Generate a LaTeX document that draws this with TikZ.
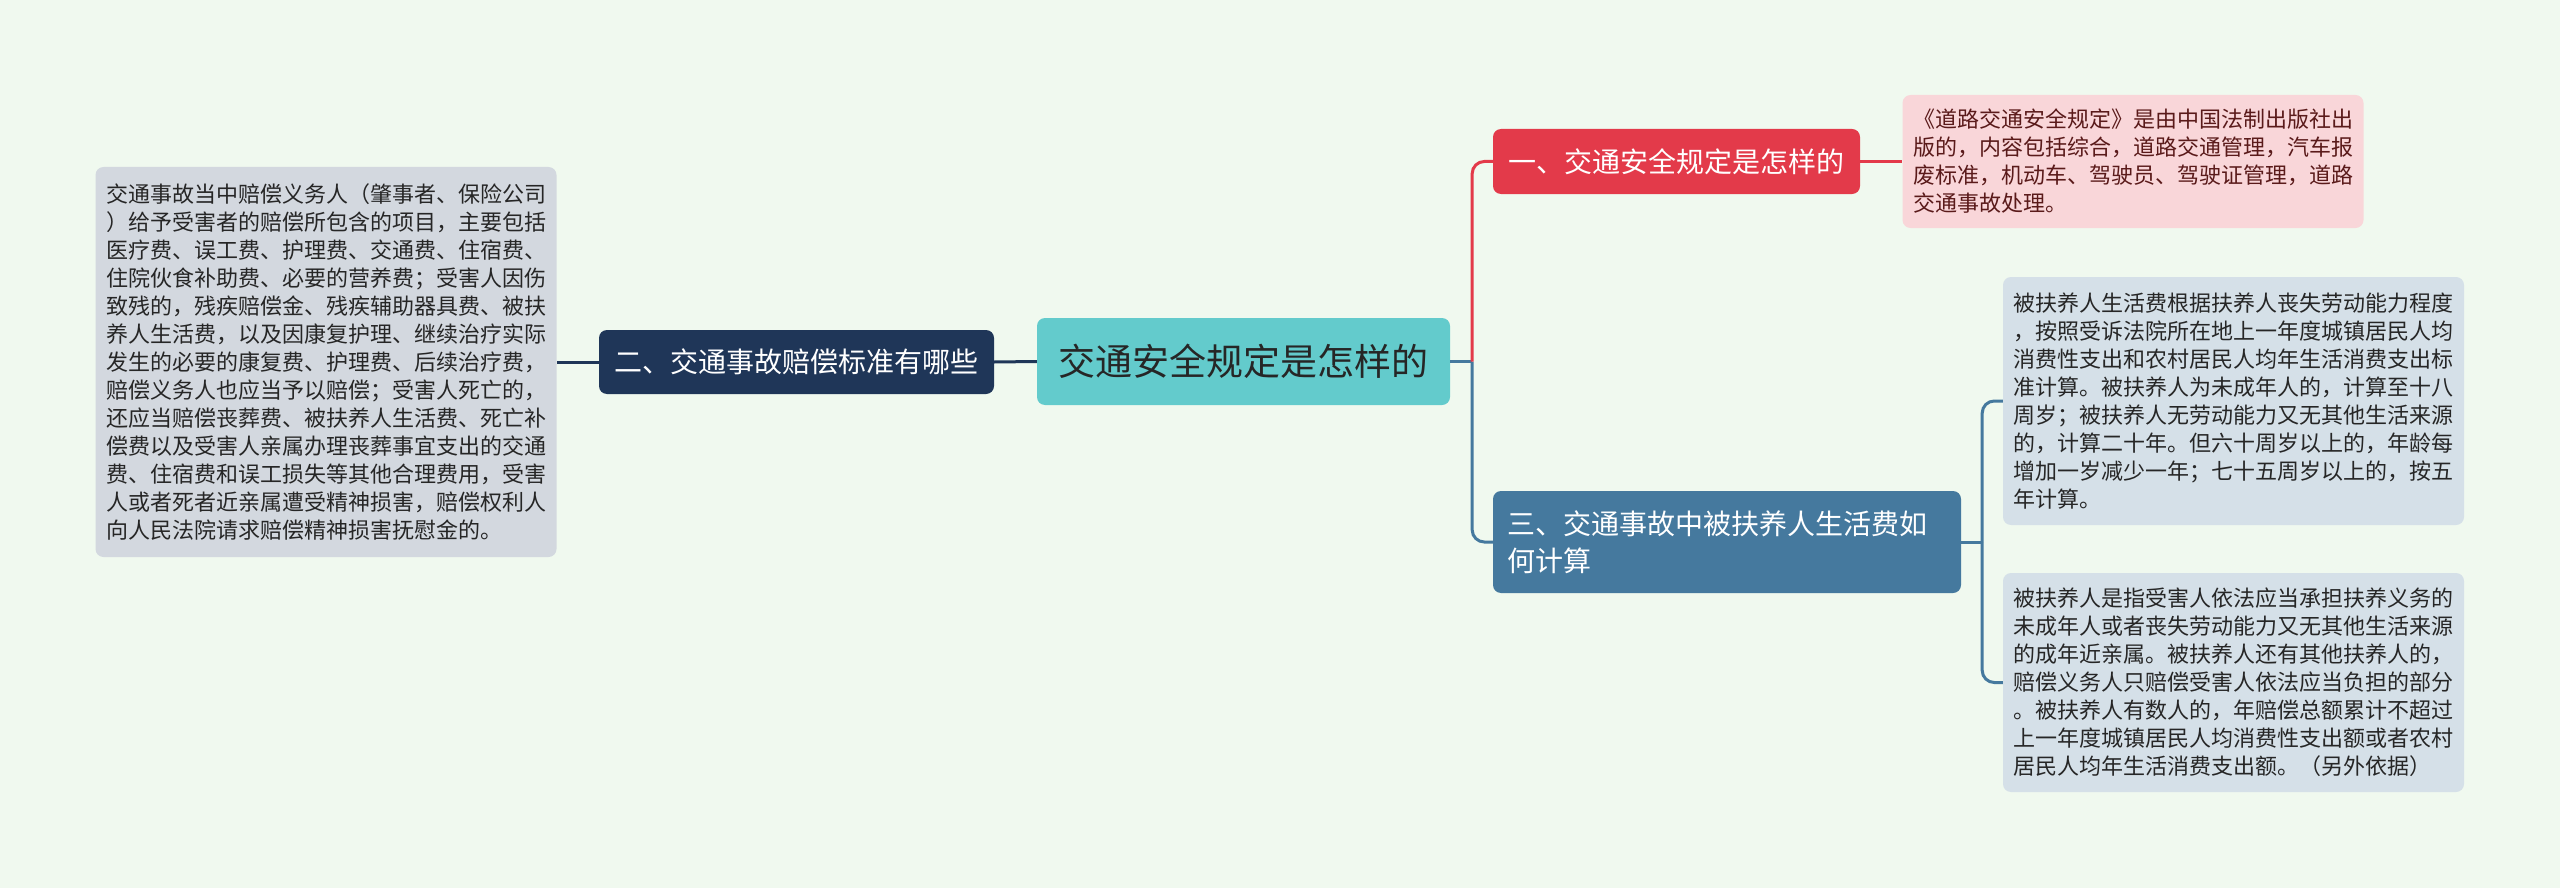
\documentclass[tikz,border=0pt]{standalone}
\usepackage{fontspec}
\setmainfont{Noto Sans CJK SC}
\definecolor{bgc}{HTML}{F0F9EF}
\definecolor{centc}{HTML}{63CBCC}
\definecolor{navyc}{HTML}{1F3658}
\definecolor{redc}{HTML}{E33A4A}
\definecolor{bluec}{HTML}{45799E}
\definecolor{greyc}{HTML}{D3D8DF}
\definecolor{pinkc}{HTML}{F9D6D9}
\definecolor{lbluec}{HTML}{D5E0E8}
\definecolor{darkred}{HTML}{5A1A1A}
\definecolor{darktxt}{HTML}{262626}
\begin{document}
\begin{tikzpicture}[x=1pt,y=-1pt,
  boxbase/.style={rounded corners=8pt, inner sep=0pt, align=left},
  title/.style={boxbase, font=\fontsize{28}{36.5}\selectfont, text=white},
  leaf/.style={boxbase, font=\fontsize{22}{28}\selectfont, text=darktxt, text width=440pt, minimum width=461pt},
  conn/.style={line width=3pt}
]
\fill[bgc] (0,0) rectangle (2560,888);
\useasboundingbox (0,0) rectangle (2560,888);

% central
\node[boxbase, fill=centc, text=darktxt, font=\fontsize{37}{44}\selectfont, minimum width=413pt, minimum height=87pt, align=center] (c) at (1243.5,361.5) {交通安全规定是怎样的};

% branch 2 (left)
\node[title, fill=navyc, minimum width=395pt, minimum height=64pt, align=center] (n2) at (796.5,362) {二、交通事故赔偿标准有哪些};
\node[leaf, fill=greyc, minimum height=390pt] (lt) at (326,362) {交通事故当中赔偿义务人（肇事者、保险公司\\）给予受害者的赔偿所包含的项目，主要包括\\医疗费、误工费、护理费、交通费、住宿费、\\住院伙食补助费、必要的营养费；受害人因伤\\致残的，残疾赔偿金、残疾辅助器具费、被扶\\养人生活费，以及因康复护理、继续治疗实际\\发生的必要的康复费、护理费、后续治疗费，\\赔偿义务人也应当予以赔偿；受害人死亡的，\\还应当赔偿丧葬费、被扶养人生活费、死亡补\\偿费以及受害人亲属办理丧葬事宜支出的交通\\费、住宿费和误工损失等其他合理费用，受害\\人或者死者近亲属遭受精神损害，赔偿权利人\\向人民法院请求赔偿精神损害抚慰金的。};

% branch 1
\node[title, fill=redc, minimum width=367pt, minimum height=65pt, align=center] (n1) at (1676.5,161.5) {一、交通安全规定是怎样的};
\node[leaf, fill=pinkc, text=darkred, minimum height=133pt] (rb) at (2133,161.5) {《道路交通安全规定》是由中国法制出版社出\\版的，内容包括综合，道路交通管理，汽车报\\废标准，机动车、驾驶员、驾驶证管理，道路\\交通事故处理。};

% branch 3
\node[title, fill=bluec, text width=440pt, minimum width=468pt, minimum height=102pt] (n3) at (1727,542) {三、交通事故中被扶养人生活费如\\何计算};
\node[leaf, fill=lbluec, minimum height=248pt] (a3) at (2233.5,401) {被扶养人生活费根据扶养人丧失劳动能力程度\\，按照受诉法院所在地上一年度城镇居民人均\\消费性支出和农村居民人均年生活消费支出标\\准计算。被扶养人为未成年人的，计算至十八\\周岁；被扶养人无劳动能力又无其他生活来源\\的，计算二十年。但六十周岁以上的，年龄每\\增加一岁减少一年；七十五周岁以上的，按五\\年计算。};
\node[leaf, fill=lbluec, minimum height=219pt] (b3) at (2233.5,682.5) {被扶养人是指受害人依法应当承担扶养义务的\\未成年人或者丧失劳动能力又无其他生活来源\\的成年近亲属。被扶养人还有其他扶养人的，\\赔偿义务人只赔偿受害人依法应当负担的部分\\。被扶养人有数人的，年赔偿总额累计不超过\\上一年度城镇居民人均消费性支出额或者农村\\居民人均年生活消费支出额。（另外依据）};

% connectors
\draw[conn, navyc] (c.west) -- (n2.east);
\draw[conn, navyc] (n2.west) -- (lt.east);

\draw[conn, bluec] (c.east) -- ++(22,0) coordinate (tr);
\draw[conn, bluec, rounded corners=12pt] (tr) |- (n3.west);
\draw[conn, redc, rounded corners=12pt] (tr) |- (n1.west);
\draw[conn, redc] (n1.east) -- (rb.west);

\draw[conn, bluec] (n3.east) -- ++(21,0) coordinate (tr3);
\draw[conn, bluec, rounded corners=12pt] (tr3) |- (a3.west);
\draw[conn, bluec, rounded corners=12pt] (tr3) |- (b3.west);
\end{tikzpicture}
\end{document}
